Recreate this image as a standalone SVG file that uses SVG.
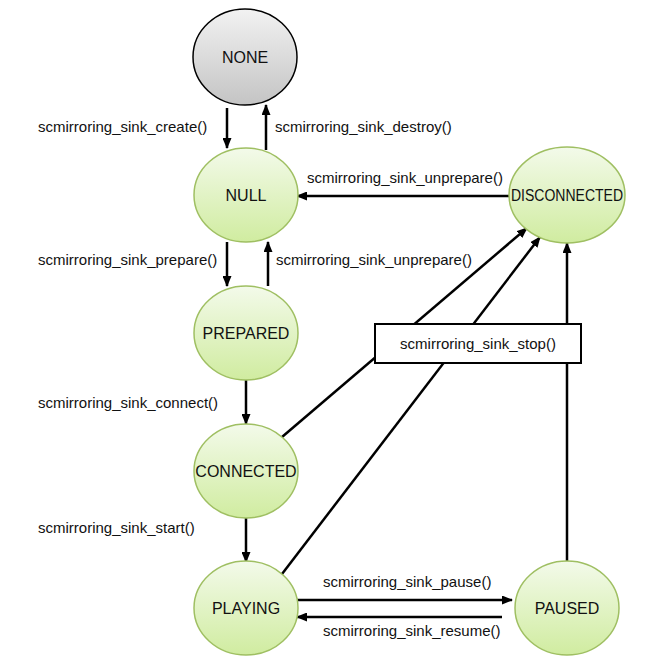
<svg xmlns="http://www.w3.org/2000/svg" width="656" height="663" viewBox="0 0 656 663">
<style>
.lbl{font-family:"Liberation Sans",Arial,sans-serif;font-size:15px;fill:#111}
.nlbl{font-family:"Liberation Sans",Arial,sans-serif;font-size:16px;fill:#111;text-anchor:middle}
.g{fill:url(#green);stroke:#9fbf62;stroke-width:1.5}
.conn{stroke:#000;stroke-width:2.5;fill:none;marker-end:url(#ah)}
</style>
<defs>
<linearGradient id="green" x1="0" y1="0" x2="0" y2="1">
<stop offset="0" stop-color="#f3faea"/>
<stop offset="1" stop-color="#d0eca0"/>
</linearGradient>
<linearGradient id="grey" x1="0" y1="0" x2="0" y2="1">
<stop offset="0" stop-color="#f2f2f2"/>
<stop offset="1" stop-color="#c4c4c4"/>
</linearGradient>
<marker id="ah" markerUnits="userSpaceOnUse" markerWidth="11" markerHeight="9" refX="10" refY="4.5" orient="auto">
<path d="M0,0 L11,4.5 L0,9 z" fill="#000"/>
</marker>
</defs>
<rect width="656" height="663" fill="#fff"/>
<g id="connectors">
<line class="conn" x1="227" y1="108" x2="227" y2="148"/>
<line class="conn" x1="266" y1="150" x2="266" y2="105"/>
<line class="conn" x1="227" y1="242" x2="227" y2="286"/>
<line class="conn" x1="268" y1="286" x2="268" y2="242"/>
<line class="conn" x1="509" y1="196" x2="297" y2="196"/>
<line class="conn" x1="246" y1="380" x2="246" y2="424"/>
<line class="conn" x1="246" y1="518" x2="246" y2="562"/>
<line class="conn" x1="282" y1="437" x2="527" y2="228"/>
<line class="conn" x1="282" y1="574" x2="540" y2="237"/>
<line class="conn" x1="567" y1="561" x2="567" y2="243"/>
<line class="conn" x1="297" y1="600" x2="512" y2="600"/>
<line class="conn" x1="502" y1="617" x2="297" y2="617"/>
<text class="lbl" x="38" y="132">scmirroring_sink_create()</text>
<text class="lbl" x="275" y="132">scmirroring_sink_destroy()</text>
<text class="lbl" x="38" y="265">scmirroring_sink_prepare()</text>
<text class="lbl" x="276" y="265">scmirroring_sink_unprepare()</text>
<text class="lbl" x="307" y="183">scmirroring_sink_unprepare()</text>
<text class="lbl" x="38" y="408">scmirroring_sink_connect()</text>
<text class="lbl" x="38" y="533">scmirroring_sink_start()</text>
<text class="lbl" x="323" y="587">scmirroring_sink_pause()</text>
<text class="lbl" x="323" y="636">scmirroring_sink_resume()</text>
<rect x="375" y="324" width="206" height="39" fill="#fff" stroke="#000" stroke-width="2"/>
<text class="lbl" x="478" y="349" text-anchor="middle">scmirroring_sink_stop()</text>
</g>
<g id="node-none">
<ellipse cx="245" cy="57" rx="52" ry="48" fill="url(#grey)" stroke="#000" stroke-width="1.5"/>
<text class="nlbl" x="245" y="63">NONE</text>
</g>
<g id="node-null">
<ellipse class="g" cx="246" cy="195" rx="52" ry="47"/>
<text class="nlbl" x="246" y="201">NULL</text>
</g>
<g id="node-prepared">
<ellipse class="g" cx="246" cy="333" rx="52" ry="47"/>
<text class="nlbl" x="246" y="339">PREPARED</text>
</g>
<g id="node-connected">
<ellipse class="g" cx="246" cy="471" rx="52" ry="47"/>
<text class="nlbl" x="246" y="477">CONNECTED</text>
</g>
<g id="node-playing">
<ellipse class="g" cx="246" cy="608" rx="52" ry="47"/>
<text class="nlbl" x="246" y="614">PLAYING</text>
</g>
<g id="node-disconnected">
<ellipse class="g" cx="567" cy="195" rx="58" ry="48"/>
<text class="nlbl" x="567" y="201" textLength="112" lengthAdjust="spacingAndGlyphs">DISCONNECTED</text>
</g>
<g id="node-paused">
<ellipse class="g" cx="567" cy="608" rx="52" ry="47"/>
<text class="nlbl" x="567" y="614">PAUSED</text>
</g>
</svg>
